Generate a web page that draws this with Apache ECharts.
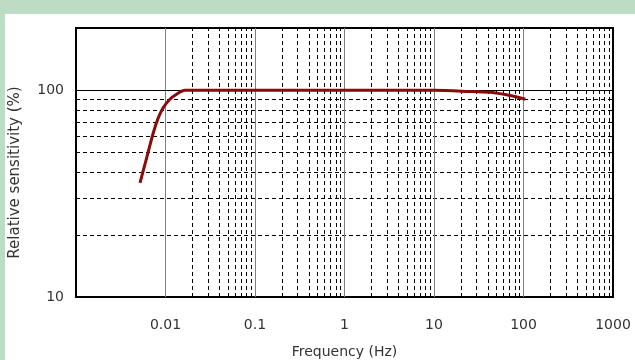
<!DOCTYPE html>
<html><head><meta charset="utf-8">
<script src="https://cdn.jsdelivr.net/npm/echarts@6/dist/echarts.min.js"></script>
<style>
html,body{margin:0;padding:0;background:#bcdcc3;}
#wrap{position:absolute;left:5px;top:14px;right:0;bottom:0;background:#fff;}
#main{position:absolute;left:0;top:0;width:635px;height:360px;}
</style></head>
<body>
<div id="wrap"></div>
<div id="main"></div>
<script>
const freq = [0.00519, 0.00616, 0.00731, 0.00832, 0.00945, 0.0112, 0.0133, 0.0165, 0.025, 0.1, 1, 10, 27, 45, 73, 105];
const sens = [35.6, 47.1, 62.3, 73.7, 82.4, 90.4, 95.6, 100, 100, 100, 100, 100, 98.5, 97.5, 94, 90.5];
const xTickLabels = ['0.01', '0.1', '1', '10', '100', '1000'];
const yTickLabels = ['10', '100'];
const xMajorLines = [0.01, 0.1, 1, 10, 100];
const xMinorLines = [];
[0.001, 0.01, 0.1, 1, 10, 100].forEach(d => { for (let k = 2; k <= 9; k++) xMinorLines.push(+(d * k).toPrecision(3)); });
const yMinorLines = [20, 30, 40, 50, 60, 70, 80, 90];
const yMajorLines = [100];

const chart = echarts.init(document.getElementById('main'));
const font = 'DejaVu Sans, sans-serif';
const dash = {type: [4, 3], color: '#000', width: 1};
function ml(data, style) {
  return {symbol: 'none', silent: true, label: {show: false}, lineStyle: style, data: data, animation: false};
}
chart.setOption({
  animation: false,
  grid: {left: 76, right: 22, top: 28, bottom: 63, outerBoundsMode: 'none', containLabel: false,
    show: true, borderColor: '#000', borderWidth: 2, backgroundColor: 'transparent'},
  xAxis: {
    type: 'log', logBase: 10, min: 0.001, max: 1000,
    axisLine: {show: false}, axisTick: {show: false}, splitLine: {show: false},
    axisLabel: {margin: 21, color: '#333', fontSize: 14, fontFamily: font,
      formatter: v => { const s = String(+v.toPrecision(3)); return xTickLabels.includes(s) ? s : ''; }},
    name: 'Frequency (Hz)', nameLocation: 'middle', nameGap: 48,
    nameTextStyle: {color: '#333', fontSize: 14, fontFamily: font}
  },
  yAxis: {
    type: 'log', logBase: 10, min: 10, max: 200,
    axisLine: {show: false}, axisTick: {show: false}, splitLine: {show: false},
    axisLabel: {margin: 12, color: '#333', fontSize: 14, fontFamily: font,
      formatter: v => { const s = String(+v.toPrecision(3)); return yTickLabels.includes(s) ? s : ''; }},
    name: 'Relative sensitivity (%)', nameLocation: 'middle', nameGap: 53,
    nameTextStyle: {color: '#333', fontSize: 15, fontFamily: font, padding: [0, 20, 0, 0]}
  },
  series: [
    {type: 'line', data: [], markLine: ml(xMinorLines.map(v => ({xAxis: v})), dash)},
    {type: 'line', data: [], markLine: ml(yMinorLines.map(v => ({yAxis: v})), dash)},
    {type: 'line', data: [], markLine: ml(xMajorLines.map(v => ({xAxis: v})), {type: 'solid', color: '#808080', width: 1})},
    {type: 'line', data: [], markLine: ml(yMajorLines.map(v => ({yAxis: v})), {type: 'solid', color: '#000', width: 1})},
    {type: 'line', data: freq.map((f, i) => [f, sens[i]]), showSymbol: false, smooth: 0.3,
      lineStyle: {color: '#8b0a0a', width: 3}, z: 5}
  ]
});
</script>
</body></html>
